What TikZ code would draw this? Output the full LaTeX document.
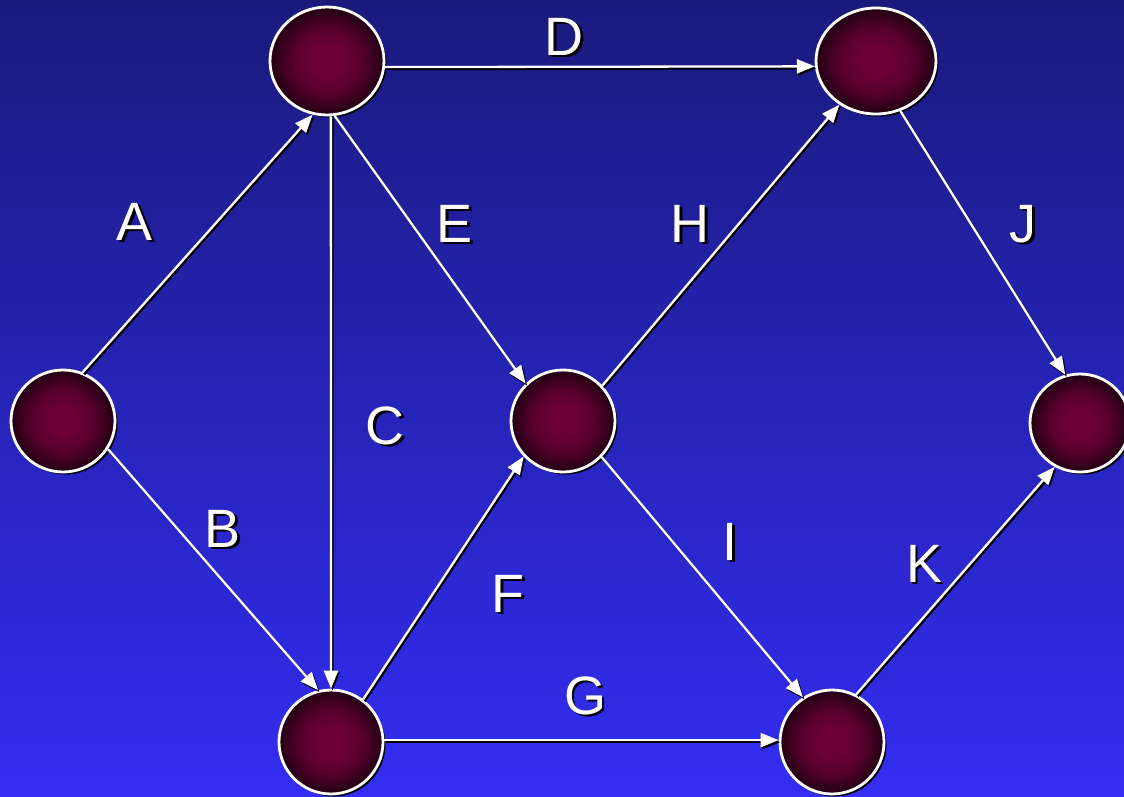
\documentclass[tikz,border=0pt]{standalone}
\usepackage{fontspec}
\setmainfont{Liberation Sans}
\usetikzlibrary{arrows.meta,shapes.geometric,shadows}
\definecolor{bgtop}{RGB}{26,26,125}
\definecolor{bgbot}{RGB}{51,45,242}
\definecolor{ninner}{RGB}{106,0,54}
\definecolor{nmid}{RGB}{88,0,45}
\definecolor{nouter}{RGB}{32,0,18}
\pgfdeclareradialshading{nodeball}{\pgfpoint{0bp}{0bp}}{%
  color(0bp)=(ninner); color(7bp)=(ninner); color(15bp)=(nmid);
  color(25bp)=(nouter); color(50bp)=(nouter)}
\newcommand\myedge[4]{%
  \draw[edgeshadow] (#1.#2) -- (#3.#4);
  \draw[edgeline] (#1.#2) -- (#3.#4);}
\newcommand\mylab[4]{%
  \node[lbl] (#1) at (#2,#3)
    {\makebox[0pt][l]{\hspace{2.5pt}\raisebox{-2.5pt}{\color{black}#4}}#4};}
\begin{document}
\begin{tikzpicture}[x=1pt,y=-1pt,
  vertex/.style={ellipse, draw=white, line width=2.8pt, inner sep=0pt,
    shading=nodeball,
    drop shadow={shadow xshift=2.5pt, shadow yshift=-2.5pt, opacity=1, fill=black}},
  edgeline/.style={white, line width=2.3pt, -{Triangle[length=18pt,width=14pt]}},
  edgeshadow/.style={edgeline, black, transform canvas={shift={(1.5pt,-2pt)}}},
  lbl/.style={font=\fontsize{54}{60}\selectfont, text=white, inner sep=0pt}]
\shade[top color=bgtop, bottom color=bgbot] (0,0) rectangle (1124,797);
\useasboundingbox (0,0) rectangle (1124,797);
% nodes
\node[vertex, minimum width=104pt, minimum height=102pt] (n1) at (63,421) {};
\node[vertex, minimum width=114pt, minimum height=108pt] (n2) at (327,61) {};
\node[vertex, minimum width=104pt, minimum height=104pt] (n3) at (331,742) {};
\node[vertex, minimum width=104pt, minimum height=102pt] (n4) at (563,421) {};
\node[vertex, minimum width=120pt, minimum height=106pt] (n5) at (876,61) {};
\node[vertex, minimum width=100pt, minimum height=98pt] (n6) at (1080,423) {};
\node[vertex, minimum width=104pt, minimum height=104pt] (n7) at (832,742) {};
% edges
\myedge{n1}{68}{n2}{255}
\myedge{n1}{-32}{n3}{104}
\myedge{n2}{-86}{n3}{90}
\myedge{n2}{-6}{n5}{185}
\myedge{n2}{-82}{n4}{135}
\myedge{n3}{53}{n4}{222}
\myedge{n3}{2}{n7}{178}
\myedge{n4}{42}{n5}{230}
\myedge{n4}{-43}{n7}{123}
\myedge{n5}{-64}{n6}{107}
\myedge{n7}{63}{n6}{240}
% labels
\mylab{la}{135}{223}{A}
\mylab{lb}{223}{530}{B}
\mylab{lc}{385}{427}{C}
\mylab{ld}{564}{38}{D}
\mylab{le}{455}{225}{E}
\mylab{lf}{508}{595}{F}
\mylab{lg}{585}{697}{G}
\mylab{lh}{690}{225}{H}
\mylab{li}{730}{543}{I}
\mylab{lj}{1023}{225}{J}
\mylab{lk}{924}{565}{K}
\end{tikzpicture}
\end{document}
